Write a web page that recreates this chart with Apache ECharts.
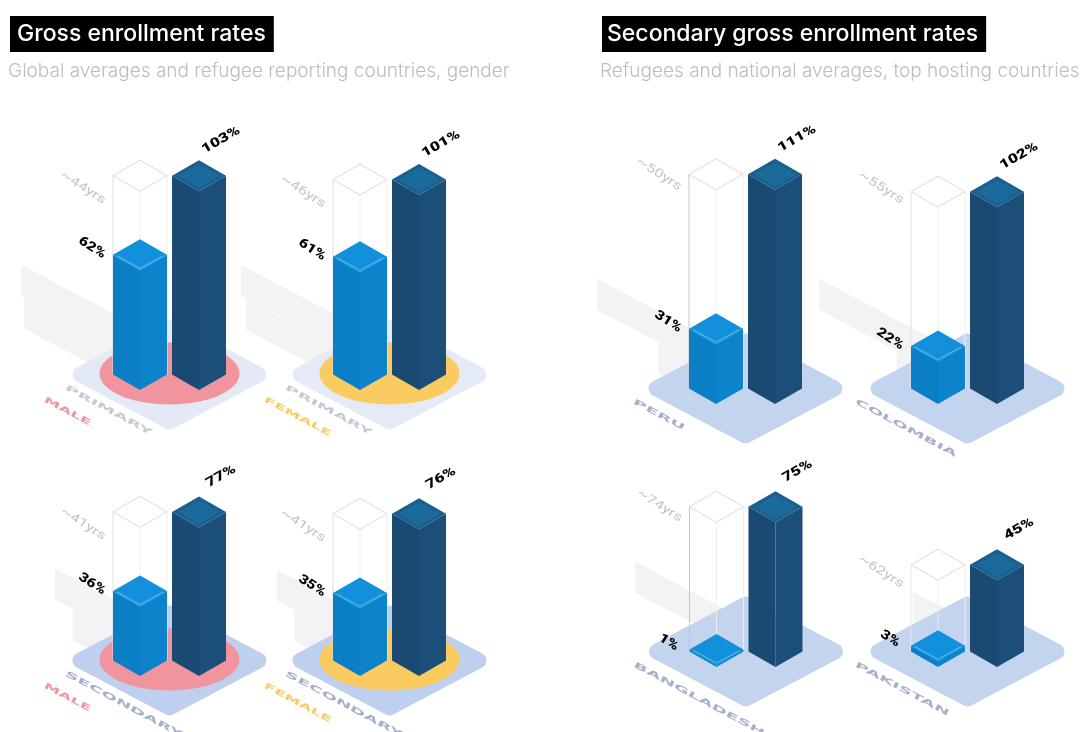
<!DOCTYPE html>
<html><head><meta charset="utf-8">
<style>html,body{margin:0;padding:0;background:#fff}#c{width:1086px;height:732px}</style>
<script src="https://cdn.jsdelivr.net/npm/echarts@6/dist/echarts.min.js"></script>
</head><body><div id="c"></div>
<script>
const barCategories = ['Refugees', 'National'];
const panelNames = ['PRIMARY', 'PRIMARY', 'SECONDARY', 'SECONDARY', 'PERU', 'COLOMBIA', 'BANGLADESH', 'PAKISTAN'];
const panelGenders = ['MALE', 'FEMALE', 'MALE', 'FEMALE', '', '', '', ''];
const refugeeRates = [62, 61, 36, 35, 31, 22, 1, 3];
const nationalRates = [103, 101, 77, 76, 111, 102, 75, 45];
const gapLabels = ['~44yrs', '~46yrs', '~41yrs', '~41yrs', '~50yrs', '~55yrs', '~74yrs', '~62yrs'];

// layout: left edge of first band, baseline y
const panelX = [110.5, 330.5, 110.5, 330.5, 686.5, 908.5, 687, 908.5];
const panelBase = [390, 390, 676, 676, 404, 404, 667, 667];
const gapLabelShift = [9, 9, 9, 9, -3, -7, -4, 4];
const ghostEdge = ['#dcdcdc', '#dcdcdc', '#e2e2e2', '#dcdcdc', '#c6c6c6', '#e2e2e2', '#c6c6c6', '#e8e8e8'];
const BAND = 59, PX = 1.93, MAXV = 125, W = 27, D = 15.5;
const plateColors = ['#e3e9f5', '#e5ebf6', '#bfcfee', '#bfcfee', '#c3d4ef', '#c3d4ef', '#c3d4ef', '#c3d4ef'];
const discColors = {MALE: '#f0949e', FEMALE: '#f9cb60'};
const faces = [
  {l: '#0b7fc6', r: '#0c83cb', t: '#1290dc', e: '#58c3f4'},
  {l: '#1a4a72', r: '#1b4e78', t: '#1a5f8e', e: '#1b6a9c'}
];
const ROT = 0.49;
const FONT = 'Roboto';

function poly(points, fill, z2) {
  return {type: 'polygon', z2: z2 || 0, silent: true, shape: {points}, style: {fill}};
}
function line(points, stroke, z2, lw) {
  return {type: 'polyline', z2: z2 || 0, silent: true, shape: {points}, style: {fill: null, stroke, lineWidth: lw || 1}};
}
function txt(text, x, y, rotation, o) {
  return {type: 'text', x, y, rotation, scaleX: o.sx || 1, scaleY: o.sy || 1, z2: 20, silent: true,
    style: {text, fill: o.color, font: o.font, align: o.align || 'center', verticalAlign: 'middle'}};
}

const grid = [], xAxis = [], yAxis = [], series = [];
panelNames.forEach((name, i) => {
  grid.push({left: panelX[i], width: BAND * 2, top: panelBase[i] - MAXV * PX, height: MAXV * PX, containLabel: false});
  xAxis.push({gridIndex: i, type: 'category', data: barCategories, show: false});
  yAxis.push({gridIndex: i, type: 'value', min: 0, max: MAXV, show: false});

  // ground shadows: length follows each bar's value
  series.push({
    type: 'custom', xAxisIndex: i, yAxisIndex: i, z: 1, silent: true, animation: false, clip: false,
    data: [[0, refugeeRates[i]], [1, nationalRates[i]]],
    renderItem(params, api) {
      const b = api.coord([api.value(0), 0]), t = api.coord([api.value(0), api.value(1)]);
      const dx = Math.min((b[1] - t[1]) * 0.97, 178), dy = dx * 0.53, cy = b[1] - D;
      const cx = b[0];
      return poly([[cx, cy - D], [cx - dx, cy - dy - D], [cx - dx, cy - dy + D], [cx, cy + D]], '#f3f3f4');
    }
  });

  // plate, disc, plate captions
  series.push({
    type: 'custom', xAxisIndex: i, yAxisIndex: i, z: 2, silent: true, animation: false, clip: false,
    data: [[0, 0]],
    renderItem(params, api) {
      const a = api.coord([0, 0]), b = api.coord([1, 0]);
      const cx = (a[0] + b[0]) / 2, cy = a[1] - D;
      const hw = 89, hh = 47;
      const children = [{
        type: 'polygon', silent: true, shape: {points: [[cx - hw, cy], [cx, cy - hh], [cx + hw, cy], [cx, cy + hh]]},
        style: {fill: plateColors[i], stroke: plateColors[i], lineWidth: 16, lineJoin: 'round'}
      }];
      const g = panelGenders[i];
      if (g) {
        children.push({type: 'ellipse', silent: true, z2: 1, shape: {cx, cy: cy - 1, rx: 70, ry: 31}, style: {fill: discColors[g]}});
      }
      const dim = i < 2;
      children.push(txt(name, cx - (i < 4 ? 104 : 112), cy + 13, -ROT, {
        color: dim ? '#c6cad6' : '#a6b1c9', font: 'bold 8px "DejaVu Sans"', align: 'left', sx: 2.4, sy: 1
      }));
      if (g) children.push(txt(g, cx - 125, cy + 25, -ROT, {
        color: discColors[g], font: 'bold 8px "DejaVu Sans"', align: 'left', sx: 2.1, sy: 1
      }));
      return {type: 'group', children};
    }
  });

  // gap outline, sitting on the refugees' footprint at the national height
  series.push({
    type: 'custom', xAxisIndex: i, yAxisIndex: i, z: 3, silent: true, animation: false, clip: false,
    data: [[0, nationalRates[i]]],
    renderItem(params, api) {
      const b = api.coord([0, 0]), t = api.coord([0, api.value(1)]);
      const cx = b[0], yb = b[1], yt = t[1], c = '#dcdcdc';
      return {type: 'group', children: [
        line([[cx - W, yb - D], [cx - W, yt - D]], ghostEdge[i]),
        line([[cx, yb], [cx, yt]], '#eeeeee'),
        line([[cx + W, yb - D], [cx + W, yt - D]], '#eeeeee'),
        line([[cx - W, yt - D], [cx, yt - 2 * D], [cx + W, yt - D], [cx, yt], [cx - W, yt - D]], c),
        txt(gapLabels[i], cx - W - 30, yt - D + 3 + gapLabelShift[i], -0.57, {color: '#c4c4c4', font: '12px ' + FONT, sx: 1.35})
      ]};
    }
  });

  // the prisms
  series.push({
    type: 'custom', xAxisIndex: i, yAxisIndex: i, z: 4, silent: true, animation: false, clip: false,
    data: [[0, refugeeRates[i]], [1, nationalRates[i]]],
    renderItem(params, api) {
      const k = api.value(0), v = api.value(1);
      const b = api.coord([k, 0]), t = api.coord([k, v]);
      const cx = b[0], yb = b[1], yt = t[1], f = faces[k];
      const ins = 4;
      const ch = [
        poly([[cx - W, yt - D], [cx, yt], [cx, yb], [cx - W, yb - D]], f.l),
        poly([[cx + W, yt - D], [cx, yt], [cx, yb], [cx + W, yb - D]], f.r),
        poly([[cx, yt - 2 * D], [cx + W, yt - D], [cx, yt], [cx - W, yt - D]], f.t, 1)
      ];
      if (k === 1) {
        ch.push(poly([[cx, yt - 2 * D + ins], [cx + W - 6, yt - D], [cx, yt - ins + 1], [cx - W + 6, yt - D]], f.e, 2));
        ch.push(txt(v + '%', cx + 22, yt - 2 * D - 20, 0.52, {color: '#000', font: '900 13px ' + FONT, sx: 1.3}));
      } else {
        ch.push(line([[cx - W + 4, yt - D + 1], [cx, yt - 2], [cx + W - 4, yt - D + 1]], f.e, 2));
        ch.push(txt(v + '%', cx - W - 21, yt - D - 7, -0.57, {color: '#000', font: '900 13px ' + FONT, sx: 1.2}));
      }
      return {type: 'group', children: ch};
    }
  });
});

const titleStyle = {color: '#fff', fontFamily: 'Inter', fontSize: 23, fontWeight: 500, lineHeight: 36};
const subStyle = {color: '#bdbdbd', fontFamily: 'Inter', fontSize: 19, fontWeight: 300};
const option = {
  backgroundColor: '#fff', animation: false,
  title: [
    {text: 'Gross enrollment rates', left: 10, top: 16, padding: [0, 8, 0, 7], backgroundColor: '#000', textStyle: titleStyle},
    {text: 'Secondary gross enrollment rates', left: 602, top: 16, padding: [0, 8, 0, 5], backgroundColor: '#000', textStyle: titleStyle},
    {text: 'Global averages and refugee reporting countries, gender', left: 8, top: 62, padding: 0, textStyle: subStyle},
    {text: 'Refugees and national averages, top hosting countries', left: 600, top: 62, padding: 0, textStyle: subStyle}
  ],
  grid, xAxis, yAxis, series
};
echarts.init(document.getElementById('c'), null, {renderer: 'canvas'}).setOption(option);
</script></body></html>
